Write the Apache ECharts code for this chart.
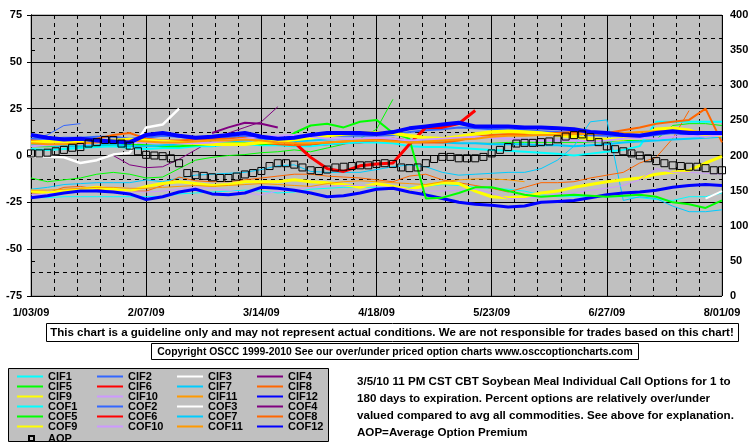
<!DOCTYPE html>
<html><head><meta charset="utf-8">
<script src="https://cdn.jsdelivr.net/npm/echarts@6/dist/echarts.min.js"></script>
<style>html,body{margin:0;padding:0;background:#fff}#c{width:755px;height:446px}</style>
</head><body><div id="c"></div>
<script>
const _ = null;
const days = [0,5,10,15,20,25,30,35,40,45,50,55,60,65,70,75,80,85,90,95,100,105,110,115,120,125,130,135,140,145,150,155,160,165,170,175,180,185,190,195,200,205,210];
const aopDays = [0,2.5,5,7.5,10,12.5,15,17.5,20,22.5,25,27.5,30,32.5,35,37.5,40,42.5,45,47.5,50,52.5,55,57.5,60,62.5,65,67.5,70,72.5,75,77.5,80,82.5,85,87.5,90,92.5,95,97.5,100,102.5,105,107.5,110,112.5,115,117.5,120,122.5,125,127.5,130,132.5,135,137.5,140,142.5,145,147.5,150,152.5,155,157.5,160,162.5,165,167.5,170,172.5,175,177.5,180,182.5,185,187.5,190,192.5,195,197.5,200,202.5,205,207.5,210];
const tickLabels = ['1/03/09','2/07/09','3/14/09','4/18/09','5/23/09','6/27/09','8/01/09'];

const CIF1 = [-22.5,-22.5,-22,-22,-22,-22,-22,-22,-22,-20.5, -20,-19.5,-19,-18.5,-19,-20,-19.5,-18,-17.5,-17, -17,-17,-17,-17,-16.5,-15.5,-16,-17,-17.5,-18, -19,-21,-22,-22,-22,-22,-22,-22.5,-23.5,-24, -22,-22,-20];
const CIF2 = [9,11,16,17,_,_,_,_,_,_, _,_,_,_,_,_,_,_,_,_, _,_,_,_,_,_,_,_,_,_, _,_,_,_,_,_,_,_,_,_, _,_,_];
const CIF3 = [_,_,_,_,_,_,_,_,_,_, _,_,_,_,_,_,_,_,_,_, _,_,_,_,_,_,_,_,_,_, _,_,_,_,_,_,_,_,_,_, _,-23,-19];
const CIF4 = [_,_,_,_,_,0,-5,-6.5,-6,-2, 3,8,12,15,18,26,_,_,_,_, _,_,_,_,_,_,_,_,_,_, _,_,_,_,_,_,_,_,_,_, _,_,_];
const CIF5 = [-12,-14,-13,-12,-10,-9,-10,-12,-11.5,-7, -2.5,-1,0,0.5,1.5,2,3,2,4,6, 9,14,30,_,_,_,_,6.5,6.5,7, 7,7,7,7,7,7.5,8,8,8.5,16, 17,17,16];
const CIF6 = [_,_,_,_,_,_,_,_,_,_, _,_,_,_,_,_,6,5.5,6,6.5, 7,8,9,8,_,_,_,_,_,_, _,_,_,_,_,_,_,_,_,_, _,_,_];
const CIF7 = [-18,-17,-15.5,-15,-14.5,-14.5,-14.5,-13,-14,-12, -10.5,-10,-9.5,-9,-7.5,-5.5,-5,-8.5,-9,-9, -9,-7.5,-6,-5,-6,-9,-10.5,-10,-9.5,-9, -9,-7,-2.5,5,18,19,-24,-22,-23,-27, -30,-30,-29];
const CIF8 = [-20,-20,-17,-16.5,-18,-19,-19,-19,-16,-11.5, -13.5,-14,-14,-13,-12,-11,-10,-10,-11,-11.5, -12,-13,-14,-11,-10,-13,-14.5,-16,-17.5,-19.5, -17,-14.5,-14.5,-14,-12,-10.5,-9,-4,-1,9, 24,_,_];
const CIF9 = [-19,-20,-19,-18,-17,-18,-19,-16.5,-15,-14, -15,-16,-15.5,-14,-14,-14,-13,-14,-14.5,-15.5, -17,-15,-16.5,-18,-16,-14.5,-15,-19,-22,-22.5, -22,-20,-19,-17,-15.5,-14,-13,-12,-10,-9, -8,-4,-0.5];
const CIF10 = [-21,-20.5,-20,-19.5,-19,-19,-19.5,-19.5,-19,-18, -17,-17.5,-18.5,-20,-21,-19,-18,-17,-16.5,-16, -16,-16.5,-17,-18,-19,-19,-18.5,-18,-20,-23, -23,-22,-20.5,-20,-18.5,-17.5,-16,-13,-7,-9, -9,-9.5,-10];
const CIF11 = [-18.5,-18.5,-18,-17.5,-17,-17,-17.5,-17.5,-17,-16.5, -16,-16.5,-16,-15.5,-15,-15.5,-16,-16.5,-15,-14, -13.5,-14,-14.5,-15,-15.5,-14,-13,-12.5,-12.5,-13, -14,_,_,_,_,_,_,_,_,_, _,_,_];
const CIF12 = [-22.5,-21.5,-20,-19,-19,-19.5,-20.5,-23.5,-22,-19.5, -18,-20.5,-21,-20,-17,-17.5,-18.5,-20,-22,-21.5, -20,-18,-17.5,-19.5,-21,-23,-25,-26,-26.5,-27.5, -27,-25,-24.5,-24,-22.5,-21,-20,-19.5,-18.5,-17, -16,-15.5,-16];

const COF1 = [3.5,3,3.5,4,4.5,5,4,3.5,4,4, 5,5,6,6,5.5,5.5,5,5,6,6.5, 7,7,6.5,5,4.5,4.5,4,3.5,3,2.5, 2,1.5,1,0,1,2,3,5,18,18, 18,18,18];
const COF2 = [9,9,9.5,9.5,10,10,9,9.5,10.5,10, 9,9,9.5,10.5,9,8.5,8.5,9.5,10.5,10.5, 10.5,10.5,11,12.5,13.5,14,15,14.5,14,14, 13.5,13,12.5,12,11,10.5,10,10,11,12, 11,11,11];
const COF3 = [-0.5,-0.5,-1,-4,-2.5,0.5,1.5,15,16.5,25, _,_,_,_,_,_,_,_,_,_, _,_,_,_,_,_,_,_,_,_, _,_,_,_,_,_,_,_,_,_, _,_,_];
const COF4 = [_,_,_,_,_,_,_,_,_,_, _,12,15,17.5,17,15,_,_,_,_, _,_,_,_,_,_,_,_,_,_, _,_,_,_,_,_,_,_,_,_, _,_,_];
const COF5 = [5,5,5.5,5,5.5,6,6,5.5,5,5, 5.5,6,6.5,6.5,6,6.5,12,16,17,15, 18,19,12,9,-23,-22.5,-20,-17,-17,-19, -21,-22,-21.5,-21,-21.5,-22,-21.5,-21,-22,-25, -26,-28,-24];
const COF6 = [_,_,_,_,_,_,_,_,_,_, _,_,_,_,_,_,7,-1,-7,-8.5, -5.5,-4.5,-4,6,15,15,17,24,_,_, _,_,_,_,_,_,_,_,_,_, _,_,_];
const COF7 = [6,5.5,5,5,5.5,6,5,5,5.5,6, 7,7,7.5,8,8,7.5,7.5,8,8.5,9, 9,9,8.5,8,7.5,7,6.5,6.5,6,6, 6,5.5,5.5,5,5.5,6,7,7.5,8,8.5, 9,9.5,10];
const COF8 = [8,7.5,7.5,8,9,11,12,9,8,8, 8.5,9,9,9.5,7,6,5.5,6,7,7.5, 8,8.5,8,7,7,7,8,10,11,11.5, 11.5,12,12,12.5,12.5,12,13.5,15,17,18, 19,25,7];
const COF9 = [7,7.5,7.5,7,7.5,8,8.5,8,7.5,7, 6.5,6,6,6,7,7.5,8.5,9.5,10.5,11.5, 12,12,12,10.5,9.5,9,10,11.5,12.5,13, 12.5,12,11,10,9,8.5,9,10,14,14.5, 13.5,10.5,11];
const COF10 = [5,5.5,6,6,6.5,7,7,7,7,6.5, 6.5,7,8,9,10,10.5,11,10,9,9, 9,9.5,9,8,8.5,9,9.5,10,9.5,9, 8.5,8,8,8,7.5,8,9,9.5,9,10, 10.5,10,11];
const COF11 = [6.5,6,6,6.5,7,7.5,8,7.5,7,7, 7.5,8,8,8.5,8,7,6.5,6.5,7,7.5, 8,8,7.5,7,7.5,8,8.5,9,10,10.5, 10.5,11,11,11.5,11.5,11.5,12,12.5,13,13, 13,12.5,12.5];
const COF12 = [11,9.5,8.5,9,8,7.5,7,11,12,10.5, 9.5,10,11,12,10,9,9.5,11,12,12, 12,11.5,12.5,14.5,15.5,16.5,17.5,15.5,15.5,15.5, 15,15,14.5,14,12.5,12,11,10.5,12,13, 12,12,12];

const AOP = [203,203,204,206,208,211,212,217,219,222, 222,217,214,206,201,200,199,196,189,175, 172,171,169,168,168,170,173,175,178,185, 189,189,187,183,179,178,180,183,184,185, 186,186,188,189,188,183,182,183,189,195, 198,198,196,196,196,198,203,208,212,217, 218,218,219,220,223,227,229,230,226,219, 213,209,206,203,200,196,192,189,186,185, 184,184,182,179,179];

const FONT = '"Liberation Sans", Arial, sans-serif';
const specs = [
  ['CIF1', CIF1, '#00FFFF', 1], ['CIF2', CIF2, '#3366FF', 1], ['CIF3', CIF3, '#FFFFFF', 2], ['CIF4', CIF4, '#800080', 1],
  ['CIF5', CIF5, '#00FF00', 1], ['CIF6', CIF6, '#FF0000', 2], ['CIF7', CIF7, '#00CCFF', 1], ['CIF8', CIF8, '#FF6600', 1],
  ['CIF9', CIF9, '#FFFF00', 3], ['CIF10', CIF10, '#CC99FF', 1], ['CIF11', CIF11, '#FF9900', 1], ['CIF12', CIF12, '#0000FF', 3],
  ['COF1', COF1, '#00FFFF', 2], ['COF2', COF2, '#3366FF', 2], ['COF3', COF3, '#FFFFFF', 2.5], ['COF4', COF4, '#800080', 2],
  ['COF5', COF5, '#00FF00', 2], ['COF6', COF6, '#FF0000', 3], ['COF7', COF7, '#00CCFF', 2], ['COF8', COF8, '#FF6600', 2],
  ['COF9', COF9, '#FFFF00', 3.5], ['COF10', COF10, '#CC99FF', 2], ['COF11', COF11, '#FF9900', 2], ['COF12', COF12, '#0000FF', 4]
];
const series = specs.map(([name, vals, color, w]) => ({
  name, type: 'line', xAxisIndex: 0, yAxisIndex: 0,
  data: vals.map((v, i) => [days[i], v]),
  symbol: 'none', showSymbol: false, connectNulls: false,
  lineStyle: { color, width: w }, itemStyle: { color },
  animation: false, silent: true
}));
series.push({
  name: 'AOP', type: 'scatter', xAxisIndex: 0, yAxisIndex: 1,
  data: AOP.map((v, i) => [aopDays[i], v]),
  symbol: 'rect', symbolSize: 7,
  itemStyle: { color: 'rgba(0,0,0,0)', borderColor: '#000', borderWidth: 1, opacity: 1 },
  animation: false, silent: true, z: 5
});

const txt = { fontFamily: FONT, fontWeight: 'bold', fontSize: 11, color: '#000' };
const col = (names, left) => ({
  orient: 'vertical', left, top: 371, itemWidth: 26, itemHeight: 10, itemGap: -1, padding: 0,
  selectedMode: false, data: names, itemStyle: { opacity: 0 },
  textStyle: Object.assign({ lineHeight: 10 }, txt)
});

const option = {
  backgroundColor: '#FFFFFF',
  animation: false,
  grid: { left: 31, top: 15, right: 33, bottom: 150, show: true, backgroundColor: '#C0C0C0', borderColor: '#808080', borderWidth: 1 },
  xAxis: [
    { type: 'value', min: 0, max: 210, interval: 35,
      axisLine: { show: true, lineStyle: { color: '#000', width: 1 } }, axisTick: { show: false },
      axisLabel: Object.assign({ margin: 11, formatter: v => tickLabels[Math.round(v / 35)] }, txt),
      splitLine: { show: true, lineStyle: { color: '#000', width: 1, type: 'solid' } } },
    { type: 'value', min: 0, max: 210, interval: 7, position: 'bottom',
      axisLine: { show: false }, axisTick: { show: false }, axisLabel: { show: false },
      splitLine: { show: true, lineStyle: { color: '#000', width: 1, type: [4, 4] } } }
  ],
  yAxis: [
    { type: 'value', min: -75, max: 75, interval: 25, position: 'left',
      axisLine: { show: true, lineStyle: { color: '#000', width: 1 } },
      axisTick: { show: true, length: 4, lineStyle: { color: '#000' } },
      axisLabel: Object.assign({ margin: 9 }, txt),
      splitLine: { show: true, lineStyle: { color: '#000', width: 1, type: 'solid' } } },
    { type: 'value', min: 0, max: 400, interval: 50, position: 'right',
      axisLine: { show: true, lineStyle: { color: '#000', width: 1 } },
      axisTick: { show: true, length: 4, lineStyle: { color: '#000' } },
      axisLabel: Object.assign({ margin: 8 }, txt),
      splitLine: { show: false } },
    { type: 'value', min: -75, max: 75, interval: 12.5, position: 'left', offset: 0,
      axisLine: { show: false }, axisTick: { show: false }, axisLabel: { show: false },
      splitLine: { show: true, lineStyle: { color: '#000', width: 1, type: [4, 4] } } }
  ],
  legend: [
    col(['CIF1', 'CIF5', 'CIF9', 'COF1', 'COF5', 'COF9'], 16),
    col(['CIF2', 'CIF6', 'CIF10', 'COF2', 'COF6', 'COF10'], 96),
    col(['CIF3', 'CIF7', 'CIF11', 'COF3', 'COF7', 'COF11'], 176),
    col(['CIF4', 'CIF8', 'CIF12', 'COF4', 'COF8', 'COF12'], 256),
    { left: 28, top: 433, itemWidth: 5, itemHeight: 5, padding: 0, selectedMode: false, data: ['AOP'],
      textStyle: Object.assign({ padding: [0, 0, 0, 9], lineHeight: 10 }, txt) }
  ],
  graphic: [
    { type: 'rect', z: 0, shape: { x: 8.5, y: 368.5, width: 320, height: 73 }, style: { fill: '#C0C0C0', stroke: '#000', lineWidth: 1 } },
    { type: 'rect', z: 0, shape: { x: 46.5, y: 323.5, width: 692, height: 18 }, style: { fill: '#FFFFFF', stroke: '#000', lineWidth: 1 } },
    { type: 'text', z: 1, style: { text: 'This chart is a guideline only and may not represent actual conditions. We are not responsible for trades based on this chart!', x: 392, y: 333, fill: '#000', font: 'bold 11.5px ' + FONT, align: 'center', verticalAlign: 'middle', textAlign: 'center', textVerticalAlign: 'middle' } },
    { type: 'rect', z: 0, shape: { x: 151.5, y: 343.5, width: 487, height: 16 }, style: { fill: '#FFFFFF', stroke: '#000', lineWidth: 1 } },
    { type: 'text', z: 1, style: { text: 'Copyright OSCC 1999-2010 See our over/under priced option charts www.osccoptioncharts.com', x: 395, y: 352, fill: '#000', font: 'bold 10.4px ' + FONT, align: 'center', verticalAlign: 'middle', textAlign: 'center', textVerticalAlign: 'middle' } },
    { type: 'text', z: 1, style: { text: '3/5/10 11 PM CST CBT Soybean Meal Individual Call Options for 1 to\n180 days to expiration. Percent options are relatively over/under\nvalued compared to avg all commodities. See above for explanation.\nAOP=Average Option Premium', x: 357, y: 373, fill: '#000', font: 'bold 11.6px ' + FONT, lineHeight: 17 } }
  ],
  series
};
const chart = echarts.init(document.getElementById('c'), null, { renderer: 'canvas' });
chart.setOption(option);
</script>
</body></html>
